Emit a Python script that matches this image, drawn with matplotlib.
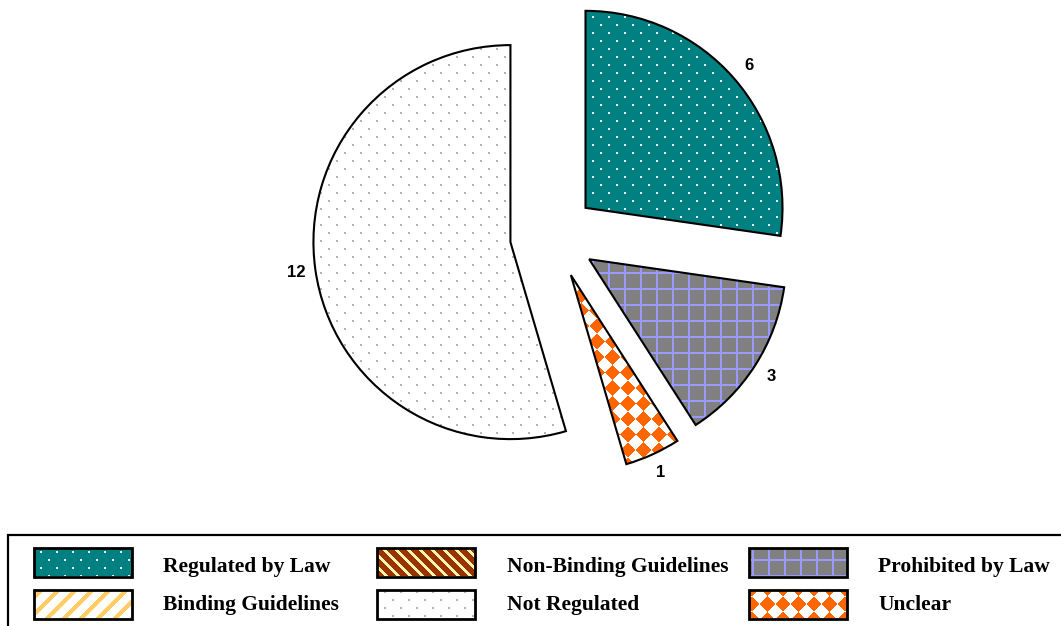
import numpy as np
import matplotlib
matplotlib.use("Agg")
import matplotlib.pyplot as plt
from matplotlib.colors import to_rgb
from matplotlib.patches import Rectangle

# Survey outcome per regulatory status (legend order, row by row)
categories = ["Regulated by Law", "Non-Binding Guidelines", "Prohibited by Law",
              "Binding Guidelines", "Not Regulated", "Unclear"]
counts = [6, 0, 3, 0, 12, 1]
# order in which the slices run clockwise from 12 o'clock
pie_order = [0, 1, 2, 3, 5, 4]

W, H = 1061, 626
yy, xx = np.mgrid[0:H, 0:W]


def paint(mask, fg, bg):
    img = np.empty((H, W, 3))
    img[:] = to_rgb(bg)
    img[mask] = to_rgb(fg)
    return img


def dots(fg, bg):
    shift = 8 * ((yy // 8) % 2)
    mask = (yy % 8 < 2) & ((xx - shift) % 16 < 2)
    return paint(mask, fg, bg)


def grid(fg, bg):
    mask = (xx % 16 < 2) | (yy % 16 < 2)
    return paint(mask, fg, bg)


def stripes(fg, bg, period, width, rising):
    d = (xx + yy) if rising else (xx - yy)
    return paint(d % period < width, fg, bg)


def diamonds(fg, bg, a=15.5):
    u = np.floor((xx + yy) / a)
    v = np.floor((xx - yy) / a)
    return paint((u + v) % 2 == 0, fg, bg)


textures = {
    "Regulated by Law": dots("#E6F4F4", "#008080"),
    "Non-Binding Guidelines": stripes("#FFF4B0", "#993300", 12, 4, False),
    "Prohibited by Law": grid("#9999FF", "#808080"),
    "Binding Guidelines": stripes("#FFCC66", "#FFFFFF", 17, 6, True),
    "Not Regulated": dots("#B4B4B4", "#FFFFFF"),
    "Unclear": diamonds("#FF6600", "#FFFFFF"),
}

fig = plt.figure(figsize=(W / 100, H / 100), dpi=100)
ax = fig.add_axes([0, 0, 1, 1])

names = [categories[i] for i in pie_order if counts[i] > 0]
vals = [counts[i] for i in pie_order if counts[i] > 0]

wedges, _ = ax.pie(vals, center=(553, H - 236), radius=197, startangle=90,
                   counterclock=False, explode=[43] * len(vals), frame=True,
                   wedgeprops=dict(facecolor="none", edgecolor="black",
                                   linewidth=1.5, zorder=3))

for w, name, v in zip(wedges, names, vals):
    im = ax.imshow(textures[name], extent=(0, W, 0, H), origin="upper",
                   interpolation="nearest", zorder=1)
    im.set_clip_path(w)
    mid = np.deg2rad((w.theta1 + w.theta2) / 2)
    cx, cy = w.center
    ax.text(cx + 1.1 * w.r * np.cos(mid), cy + 1.1 * w.r * np.sin(mid), str(v),
            ha="center", va="center", fontsize=12, fontweight="bold",
            family="Liberation Sans", zorder=4)

# legend block
sw_x = [34, 377, 749]
tx_x = [163, 507, 878]
row_top = [548, 590]
row_base = [572, 610]
sw_w, sw_h = 98, 28.5
for k, name in enumerate(categories):
    r, c = divmod(k, 3)
    rect = Rectangle((sw_x[c], H - row_top[r] - sw_h), sw_w, sw_h,
                     facecolor="none", edgecolor="black", linewidth=2, zorder=3)
    ax.add_patch(rect)
    im = ax.imshow(textures[name], extent=(0, W, 0, H), origin="upper",
                   interpolation="nearest", zorder=1)
    im.set_clip_path(rect)
    ax.text(tx_x[c], H - row_base[r], name, ha="left", va="baseline",
            fontsize=15.5, fontweight="bold", family="Liberation Serif")

ax.add_patch(Rectangle((8, -10), W + 10, H - 535 + 10, facecolor="none",
                       edgecolor="black", linewidth=1.6, zorder=3))

ax.set_xlim(0, W)
ax.set_ylim(0, H)
ax.set_aspect("auto")
ax.axis("off")

fig.savefig("out.png", dpi=100, facecolor="white")
